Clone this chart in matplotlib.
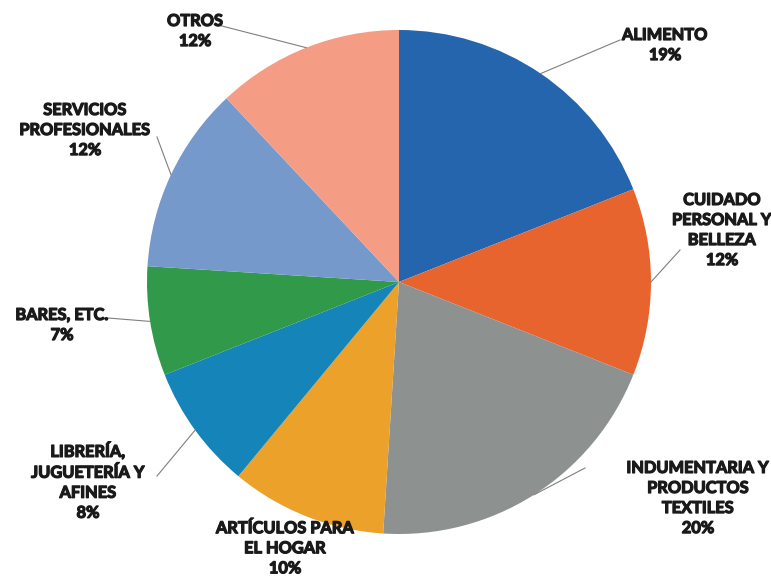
import numpy as np
import matplotlib
matplotlib.use('Agg')
import matplotlib.pyplot as plt
import matplotlib.patheffects as pe

# Rubros y participación (%)
rubros = ["ALIMENTO", "CUIDADO\nPERSONAL Y\nBELLEZA", "INDUMENTARIA Y\nPRODUCTOS\nTEXTILES",
          "ARTÍCULOS PARA\nEL HOGAR", "LIBRERÍA,\nJUGUETERÍA Y\nAFINES", "BARES, ETC.",
          "SERVICIOS\nPROFESIONALES", "OTROS"]
porcentajes = [19, 12, 20, 10, 8, 7, 12, 12]
colores = ["#2565AE", "#E8642F", "#8D9190", "#EBA12A", "#1584B8", "#309A4A", "#7699CC", "#F59C85"]

# posición del texto (px desde arriba) y codo de la línea guía
pos_texto = [(665, 46), (722, 231), (698, 499), (285, 549), (88, 482), (62, 326), (85, 131), (195, 32)]
codos = [(620, 40), (680, 250), (585, 468), None, (157, 476), (108, 318), (157, 137), (218, 25)]

W, H = 771, 577
fig = plt.figure(figsize=(W / 100, H / 100), dpi=100)
ax = fig.add_axes([0, 0, 1, 1])

cx, cy, r = 399, H - 282, 252
ax.pie(porcentajes, colors=colores, startangle=90, counterclock=False,
       center=(cx, cy), radius=r, frame=True, wedgeprops=dict(linewidth=0))
ax.set_xlim(0, W)
ax.set_ylim(0, H)
ax.set_aspect('equal')
ax.axis('off')

acum = np.cumsum([0] + porcentajes)
for i, (rubro, p) in enumerate(zip(rubros, porcentajes)):
    medio = np.deg2rad(90 - (acum[i] + p / 2) * 3.6)
    tx, ty = pos_texto[i]
    ax.text(tx, H - ty, f"{rubro}\n{p}%", ha='center', va='center', fontsize=11.8,
            fontweight='bold', family='Lato', color='#1a1a1a', linespacing=1.55,
            path_effects=[pe.withStroke(linewidth=0.9, foreground='#1a1a1a')])
    if codos[i] is not None:
        ex, ey = cx + r * np.cos(medio), cy + r * np.sin(medio)
        kx, ky = codos[i]
        ax.plot([ex, kx], [ey, H - ky], color='#7f7f7f', lw=0.8)

fig.savefig("out.png", dpi=100)
